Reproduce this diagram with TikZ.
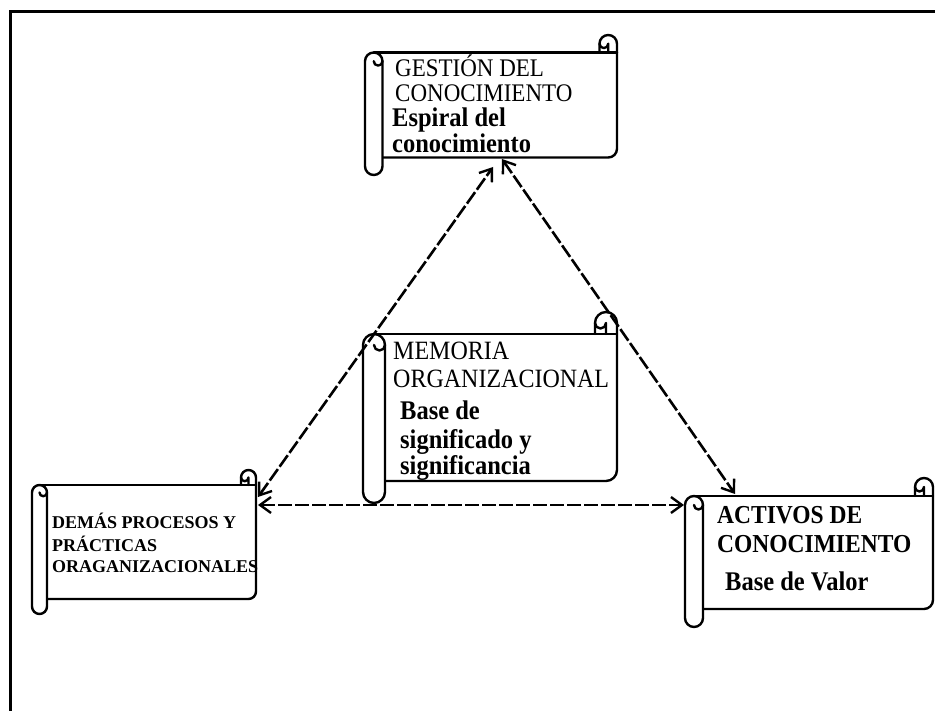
\documentclass[tikz,border=0pt]{standalone}
\usepackage{fontspec}
\usepackage{graphicx}
\setmainfont{Liberation Serif}
\usetikzlibrary{arrows.meta}

% Horizontal scroll: #1 left, #2 top, #3 right, #4 bottom, #5 roll width (screen-style coordinates)
\newcommand\scrollbox[5]{%
  \pgfmathsetmacro\sl{#1}\pgfmathsetmacro\st{#2}%
  \pgfmathsetmacro\sr{#3}\pgfmathsetmacro\sb{#4}%
  \pgfmathsetmacro\sc{#5}\pgfmathsetmacro\sh{#5/2}\pgfmathsetmacro\sq{#5/4}%
  % top edge of the sheet
  \draw[scrollline] ({\sl+\sh},{\st+\sc}) -- (\sr,{\st+\sc});
  % curl at the upper right, right edge, bottom edge
  \draw[scrollline] ({\sr-\sc},{\st+\sc}) -- ({\sr-\sc},{\st+\sh})
    arc[start angle=180, end angle=360, radius=\sh]
    -- (\sr,{\sb-\sc-\sh})
    arc[start angle=0, end angle=90, radius=\sh]
    -- ({\sl+\sc},{\sb-\sc});
  \draw[scrollline] ({\sr-\sc},{\st+\sh})
    arc[start angle=180, end angle=0, radius=\sq]
    -- ({\sr-\sh},{\st+\sc});
  % rolled left edge
  \draw[scrollline, fill=white] ({\sl+\sc},{\st+\sc+\sh})
    arc[start angle=0, end angle=-180, radius=\sh]
    -- (\sl,{\sb-\sh})
    arc[start angle=180, end angle=0, radius=\sh]
    -- cycle;
  \draw[scrollline] ({\sl+\sh},{\st+\sc+\sh})
    arc[start angle=180, end angle=0, radius=\sq];
}
\newcommand\tall[1]{\scalebox{1}[1.1]{#1}}

\begin{document}
\begin{tikzpicture}[x=1pt, y=1pt, yscale=-1,
  scrollline/.style={line width=2.4pt, line join=round, line cap=round},
  frameline/.style={line width=3pt},
  barb/.tip={Straight Barb[length=11pt,width=16pt,line width=2.4pt]},
  link/.style={line width=2.6pt, dash pattern=on 14pt off 3pt, barb-barb},
  tx/.style={inner sep=0pt, anchor=base west},
  capreg/.style={tx, font=\fontsize{23pt}{24pt}\selectfont},
  capbold/.style={tx, font=\bfseries\fontsize{23.5pt}{25pt}\selectfont},
  smallcap/.style={tx, font=\bfseries\fontsize{18pt}{19pt}\selectfont},
  subbold/.style={tx, font=\bfseries\fontsize{24.5pt}{26pt}\selectfont}]
\fill[white] (0,0) rectangle (935,711);
\useasboundingbox (0,0) rectangle (935,711);

% frame
\draw[frameline] (10,711) -- (10,12) -- (935,12);

% scrolls
\scrollbox{365}{35}{617}{175}{17.5}
\scrollbox{363}{312}{617}{503}{22}
\scrollbox{32}{470}{256}{614}{15}
\scrollbox{685}{478}{933}{627}{18}

% texts: knowledge management
\node[capreg] (g1) at (395,77) {\tall{GESTIÓN DEL}};
\node[capreg] (g2) at (395,102) {\tall{CONOCIMIENTO}};
\node[subbold] (g3) at (392,127) {\tall{Espiral del}};
\node[subbold] (g4) at (392,153) {\tall{conocimiento}};

% texts: organizational memory
\node[capreg, font=\fontsize{24pt}{25pt}\selectfont] (m1) at (393,360) {\tall{MEMORIA}};
\node[capreg, font=\fontsize{24pt}{25pt}\selectfont] (m2) at (393,388) {\tall{ORGANIZACIONAL}};
\node[subbold] (m3) at (400,420) {\tall{Base de}};
\node[subbold] (m4) at (400,448) {\tall{significado y}};
\node[subbold] (m5) at (400,474) {\tall{significancia}};

% texts: other processes
\node[smallcap] (d1) at (52,528) {DEMÁS PROCESOS Y};
\node[smallcap] (d2) at (52,551) {PRÁCTICAS};
\node[smallcap] (d3) at (52,572) {ORAGANIZACIONALES};

% texts: knowledge assets
\node[capbold] (a1) at (717,523) {\tall{ACTIVOS DE}};
\node[capbold] (a2) at (717,552) {\tall{CONOCIMIENTO}};
\node[subbold] (a3) at (725,590) {\tall{Base de Valor}};

% connector ends
\coordinate (gL) at (493,167);
\coordinate (gR) at (502,159);
\coordinate (dT) at (258,497);
\coordinate (dR) at (258,505);
\coordinate (aT) at (735,494);
\coordinate (aL) at (684,505);

\draw[link] (dT) -- (gL);
\draw[link] (gR) -- (aT);
\draw[link] (dR) -- (aL);
\end{tikzpicture}
\end{document}
